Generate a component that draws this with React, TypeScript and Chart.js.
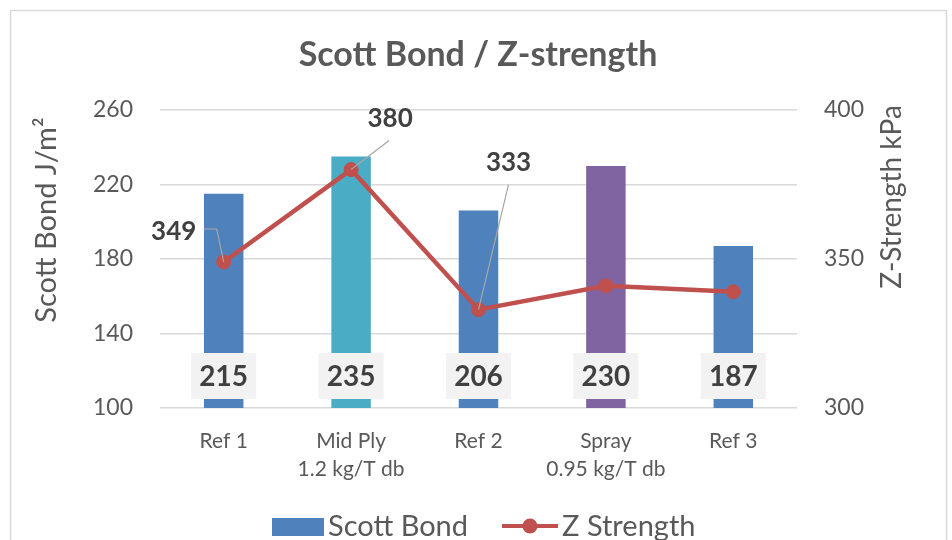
import React, { useEffect, useRef } from "react";
import { Chart, registerables } from "chart.js";

Chart.register(...registerables);

// ---------- data ----------
const categories: string[][] = [
  ["Ref 1"],
  ["Mid Ply", "1.2 kg/T db"],
  ["Ref 2"],
  ["Spray", "0.95 kg/T db"],
  ["Ref 3"],
];
const scottBond: number[] = [215, 235, 206, 230, 187];
const zStrength: number[] = [349, 380, 333, 341, 339];
const barColors: string[] = ["#4F81BD", "#4BACC6", "#4F81BD", "#8064A2", "#4F81BD"];
const leftTicks: number[] = [100, 140, 180, 220, 260];
const rightTicks: number[] = [300, 350, 400];
const zLabelShown: boolean[] = [true, true, true, false, false];

const titleText = "Scott Bond / Z-strength";
const leftTitle = "Scott Bond J/m²";
const rightTitle = "Z-Strength kPa";

// ---------- styles ----------
const FONT = "Lato, 'Open Sans', sans-serif";
const TEXT = "#595959";
const LABEL = "#404040";
const LINE = "#C0504D";

// leader-line geometry for the line labels (relative to point)
const leaderGeom: { lx: number; ly: number; path: [number, number][] }[] = [
  { lx: -50, ly: -30, path: [[-20, -33], [-7, -33], [0, 0]] },
  { lx: 39, ly: -51, path: [[38, -29], [0, 0]] },
  { lx: 30, ly: -147, path: [[30, -125], [0, 0]] },
  { lx: 0, ly: -30, path: [] },
  { lx: 0, ly: -30, path: [] },
];

const decorPlugin = {
  id: "decor",
  beforeDraw(chart: any) {
    const ctx = chart.ctx;
    ctx.save();
    ctx.fillStyle = "#ffffff";
    ctx.fillRect(0, 0, chart.width, chart.height);
    ctx.strokeStyle = "#d9d9d9";
    ctx.lineWidth = 1.5;
    ctx.strokeRect(10.5, 10.5, 936, 600);
    ctx.restore();
  },
  afterDraw(chart: any) {
    const ctx = chart.ctx;
    const area = chart.chartArea;
    ctx.save();
    // title
    ctx.fillStyle = TEXT;
    ctx.font = `bold 34px ${FONT}`;
    ctx.textAlign = "center";
    ctx.textBaseline = "middle";
    ctx.fillText(titleText, 478, 55);

    // axis titles
    ctx.font = `29px ${FONT}`;
    ctx.save();
    ctx.translate(47, 220);
    ctx.rotate(-Math.PI / 2);
    ctx.fillText(leftTitle, 0, 0);
    ctx.restore();
    ctx.font = `28px ${FONT}`;
    ctx.save();
    ctx.translate(892, 197);
    ctx.rotate(-Math.PI / 2);
    ctx.fillText(rightTitle, 0, 0);
    ctx.restore();

    // bar labels
    const barMeta = chart.getDatasetMeta(1);
    ctx.font = `bold 28px ${FONT}`;
    barMeta.data.forEach((el: any, i: number) => {
      const cx = el.x;
      const cy = area.bottom - 32;
      ctx.fillStyle = "#F2F2F2";
      ctx.fillRect(cx - 32.5, cy - 23, 65, 46);
      ctx.fillStyle = LABEL;
      ctx.fillText(String(scottBond[i]), cx, cy + 1);
    });

    // line labels with leaders
    const lineMeta = chart.getDatasetMeta(0);
    lineMeta.data.forEach((el: any, i: number) => {
      if (!zLabelShown[i]) return;
      const g = leaderGeom[i];
      if (g.path.length) {
        ctx.strokeStyle = "#A6A6A6";
        ctx.lineWidth = 1.2;
        ctx.beginPath();
        g.path.forEach(([dx, dy], k) => {
          if (k === 0) ctx.moveTo(el.x + dx, el.y + dy);
          else ctx.lineTo(el.x + dx, el.y + dy);
        });
        ctx.stroke();
      }
      ctx.fillStyle = LABEL;
      ctx.font = `bold 26px ${FONT}`;
      ctx.fillText(String(zStrength[i]), el.x + g.lx, el.y + g.ly);
    });

    // legend
    const ds = chart.data.datasets;
    ctx.font = `29px ${FONT}`;
    ctx.textAlign = "left";
    ctx.fillStyle = barColors[0];
    ctx.fillRect(272, 518, 52, 18);
    ctx.fillStyle = TEXT;
    ctx.fillText(ds[1].label, 328, 527);
    ctx.strokeStyle = LINE;
    ctx.lineWidth = 4;
    ctx.beginPath();
    ctx.moveTo(502, 526);
    ctx.lineTo(558, 526);
    ctx.stroke();
    ctx.fillStyle = LINE;
    ctx.beginPath();
    ctx.arc(530, 526, 7.5, 0, Math.PI * 2);
    ctx.fill();
    ctx.fillStyle = TEXT;
    ctx.fillText(ds[0].label, 562, 527);
    ctx.restore();
  },
};

export default function App() {
  const ref = useRef<HTMLCanvasElement | null>(null);
  useEffect(() => {
    if (!ref.current) return;
    const chart = new Chart(ref.current, {
      type: "bar",
      data: {
        labels: categories,
        datasets: [
          {
            type: "line",
            label: "Z Strength",
            data: zStrength,
            yAxisID: "y2",
            borderColor: LINE,
            backgroundColor: LINE,
            borderWidth: 4.5,
            pointRadius: 7,
            pointBorderWidth: 1,
            pointBackgroundColor: LINE,
            pointBorderColor: LINE,
            tension: 0,
            order: 0,
          } as any,
          {
            type: "bar",
            label: "Scott Bond",
            data: scottBond,
            yAxisID: "y",
            backgroundColor: barColors,
            borderWidth: 0,
            categoryPercentage: 1,
            barPercentage: 0.31,
            order: 1,
          } as any,
        ],
      },
      options: {
        responsive: false,
        animation: false,
        layout: { padding: { left: 10, right: 10, top: 110, bottom: 0 } },
        plugins: {
          legend: { display: false },
          tooltip: { enabled: false },
          title: { display: false },
        },
        scales: {
          x: {
            grid: { display: false },
            border: { display: false },
            ticks: {
              color: TEXT,
              font: { family: FONT, size: 21, lineHeight: 1.35 },
              padding: 11,
              maxRotation: 0,
              autoSkip: false,
            },
            afterFit: (s: any) => {
              s.height = 132;
            },
          },
          y: {
            position: "left",
            min: 100,
            max: 260,
            afterBuildTicks: (s: any) => {
              s.ticks = leftTicks.map((v) => ({ value: v }));
            },
            ticks: { color: TEXT, font: { family: FONT, size: 23 }, padding: 27 },
            grid: { color: "#D9D9D9", lineWidth: 1.5, drawTicks: false },
            border: { display: false },
            afterFit: (s: any) => {
              s.width = 150;
            },
          },
          y2: {
            position: "right",
            min: 300,
            max: 400,
            afterBuildTicks: (s: any) => {
              s.ticks = rightTicks.map((v) => ({ value: v }));
            },
            ticks: { color: TEXT, font: { family: FONT, size: 23 }, padding: 27 },
            grid: { display: false, drawTicks: false },
            border: { display: false },
            afterFit: (s: any) => {
              s.width = 145;
            },
          },
        },
      },
      plugins: [decorPlugin],
    });
    return () => chart.destroy();
  }, []);
  return (
    <canvas
      ref={ref}
      width={952}
      height={540}
      style={{ position: "fixed", left: 0, top: 0, width: 952, height: 540, display: "block" }}
    />
  );
}
